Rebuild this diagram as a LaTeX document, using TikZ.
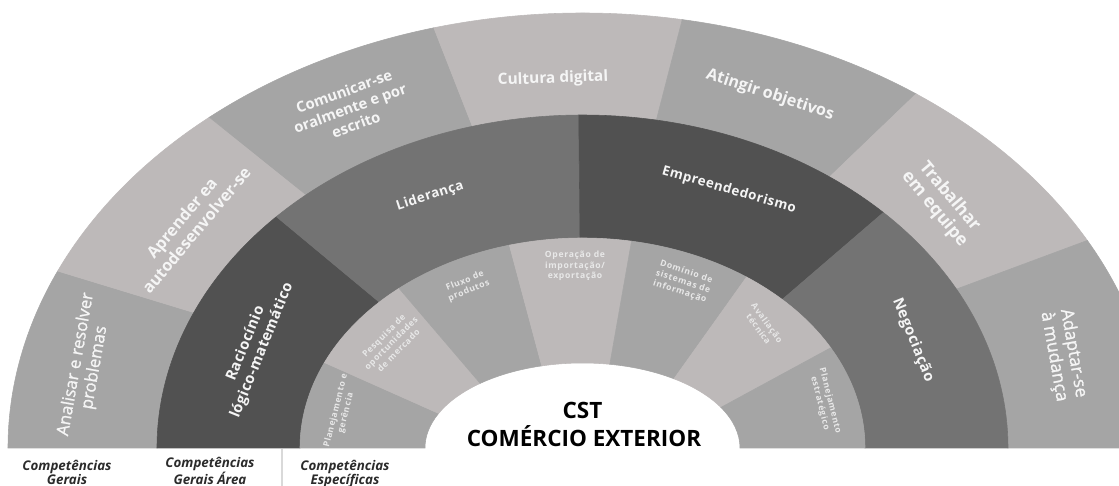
\documentclass[tikz,border=0pt]{standalone}
\usepackage{fontspec}
\setmainfont{Open Sans}
\definecolor{lt}{HTML}{BDB9B9}
\definecolor{md}{HTML}{A5A5A5}
\definecolor{dk}{HTML}{515151}
\definecolor{mg}{HTML}{737373}
\definecolor{tx}{HTML}{F5F5F5}
\definecolor{txi}{HTML}{E8E8E8}
\definecolor{lab}{HTML}{2B2B2B}
\definecolor{sep}{HTML}{D9D9D9}
% #1 colour, #2/#3 inner radii, #4/#5 outer radii, #6/#7 angles
\newcommand\ringseg[7]{%
  \filldraw[fill=#1,draw=#1,line width=0.4pt]
    ({#4*cos(#6)},{#5*sin(#6)}) arc[start angle=#6,end angle=#7,x radius=#4,y radius=#5]
    -- ({#2*cos(#7)},{#3*sin(#7)}) arc[start angle=#7,end angle=#6,x radius=#2,y radius=#3] -- cycle;}
\tikzset{
  outerlbl/.style={text=tx, align=center, inner sep=0pt,
    font=\fontsize{10.5}{12.5}\selectfont\bfseries},
  outerbig/.style={text=tx, align=center, inner sep=0pt,
    font=\fontsize{12}{13.5}\selectfont\addfontfeature{FakeBold=1.2}},
  midlbl/.style={text=tx, align=center, inner sep=0pt,
    font=\fontsize{9.5}{11.5}\selectfont\bfseries\addfontfeature{LetterSpace=4}},
  innerlbl/.style={text=txi, align=center, inner sep=0pt,
    font=\fontsize{6.1}{7.4}\selectfont\bfseries\addfontfeature{LetterSpace=8}},
  catlbl/.style={text=lab, align=center, inner sep=0pt,
    font=\fontsize{9.5}{10}\selectfont\bfseries\itshape},
  titlelbl/.style={text=black, inner sep=0pt,
    font=\fontsize{16}{18}\selectfont\bfseries},
}
\begin{document}
\begin{tikzpicture}[x=0.025cm,y=0.025cm]
\useasboundingbox (-582.5,-38) rectangle (536.5,448);
\clip (-582.5,-38) rectangle (536.5,448);
% outer ring
\ringseg{md}{425.5}{333}{574.5}{435}{156}{180}
\ringseg{lt}{425.5}{333}{574.5}{435}{130.5}{156}
\ringseg{md}{425.5}{333}{574.5}{435}{105}{130.5}
\ringseg{lt}{425.5}{333}{574.5}{435}{80}{105}
\ringseg{md}{425.5}{333}{574.5}{435}{54.5}{80}
\ringseg{lt}{425.5}{333}{574.5}{435}{28.5}{54.5}
\ringseg{md}{425.5}{333}{574.5}{435}{0}{28.5}
% middle ring
\ringseg{dk}{282.5}{210}{425.5}{333}{136}{180}
\ringseg{mg}{282.5}{210}{425.5}{333}{90.5}{136}
\ringseg{dk}{282.5}{210}{425.5}{333}{45}{90.5}
\ringseg{mg}{282.5}{210}{425.5}{333}{0}{45}
% inner ring
\ringseg{md}{157.5}{85}{282.5}{210}{156}{180}
\ringseg{lt}{157.5}{85}{282.5}{210}{130.5}{156}
\ringseg{md}{157.5}{85}{282.5}{210}{105}{130.5}
\ringseg{lt}{157.5}{85}{282.5}{210}{80}{105}
\ringseg{md}{157.5}{85}{282.5}{210}{54.5}{80}
\ringseg{lt}{157.5}{85}{282.5}{210}{28.5}{54.5}
\ringseg{md}{157.5}{85}{282.5}{210}{0}{28.5}
% outer labels
\node[outerbig, rotate=80] (analisar) at (-497,82) {Analisar e resolver\\problemas};
\node[outerlbl, font=\fontsize{11.5}{13.5}\selectfont\bfseries, rotate=50] (aprender) at (-393.5,224) {Aprender ea\\autodesenvolver-se};
\node[outerlbl, rotate=20] (comunicar) at (-232.5,340) {Comunicar-se\\oralmente e por\\escrito};
\node[outerlbl, font=\fontsize{11}{13}\selectfont\bfseries, rotate=2] (cultura) at (-29.5,369) {Cultura digital};
\node[outerlbl, font=\fontsize{11.5}{13}\selectfont\bfseries, rotate=-18] (atingir) at (187.5,353) {Atingir objetivos};
\node[outerlbl, font=\fontsize{12.5}{14}\selectfont\bfseries, rotate=-50] (trabalhar) at (359.5,245) {Trabalhar\\em equipe};
\node[outerbig, font=\fontsize{12.5}{14}\selectfont\addfontfeature{FakeBold=1.2}, rotate=-80] (adaptar) at (481,93) {Adaptar-se\\à mudança};
% middle labels
\node[midlbl, font=\fontsize{10.5}{12.5}\selectfont\bfseries\addfontfeature{LetterSpace=3}, rotate=68] (raciocinio) at (-328.5,101) {Raciocínio\\lógico-matemático};
\node[midlbl, rotate=18] (lideranca) at (-152.5,252) {Liderança};
\node[midlbl, rotate=-16] (empreend) at (146.5,258) {Empreendedorismo};
\node[midlbl, font=\fontsize{10.5}{12.5}\selectfont\bfseries\addfontfeature{LetterSpace=3}, rotate=-68] (negociacao) at (330.5,108) {Negociação};
% inner labels
\node[innerlbl, rotate=76] (plang) at (-241.5,36) {Planejamento e\\gerência};
\node[innerlbl, rotate=45] (pesquisa) at (-191.5,105) {Pesquisa de\\oportunidades\\de mercado};
\node[innerlbl, rotate=22] (fluxo) at (-115.5,162) {Fluxo de\\produtos};
\node[innerlbl, rotate=0] (operacao) at (-7.5,182) {Operação de\\importação/\\exportação};
\node[innerlbl, rotate=-18] (dominio) at (100.5,166) {Domínio de\\sistemas de\\informação};
\node[innerlbl, rotate=-54] (avaliacao) at (180.5,122) {Avaliação\\técnica};
\node[innerlbl, rotate=-76] (plane) at (242.5,46) {Planejamento\\estratégico};
% centre title
\node[titlelbl, anchor=base] (cst) at (0,29) {CST};
\node[titlelbl, anchor=base] (comex) at (1.5,1.5) {COMÉRCIO EXTERIOR};
% bottom categories
\draw[sep, line width=0.8pt] (-300.5,-1) coordinate (sepa) -- (-300.5,-38) coordinate (sepb);
\node[catlbl, anchor=base] (cat1) at (-515.5,-36.5) {Competências\\Gerais};
\node[catlbl, anchor=base] (cat2) at (-372.5,-36.5) {Competências\\Gerais Área};
\node[catlbl, anchor=base] (cat3) at (-237.5,-36.5) {Competências\\Específicas};
\end{tikzpicture}
\end{document}
